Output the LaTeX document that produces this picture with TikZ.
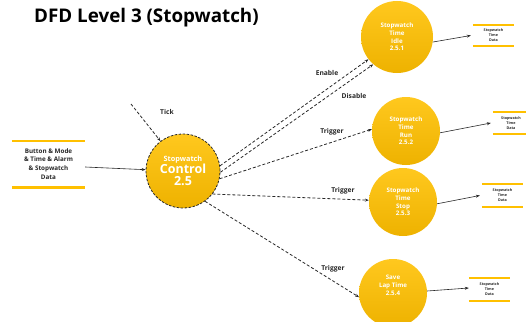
\documentclass[tikz,border=0pt]{standalone}
\usepackage{fontspec}
\setmainfont{Open Sans}
\usetikzlibrary{arrows.meta}
\definecolor{gold}{RGB}{255,192,0}
\definecolor{goldtop}{RGB}{255,200,30}
\definecolor{goldbot}{RGB}{238,178,0}
\definecolor{ink}{RGB}{40,40,40}
\tikzset{
  proc/.style={circle, draw=none, shading=axis, top color=goldtop, bottom color=goldbot,
    minimum size=#1, inner sep=0pt, align=center, text=white, font=\bfseries\fontsize{6.2}{7.7}\selectfont},
  proc/.default=70pt,
  store/.style={rectangle, draw=none, inner sep=0pt, align=center},
  storeline/.style={draw=gold, line width=2.6pt},
  flow/.style={draw=ink, line width=0.6pt, -{Stealth[length=4pt,width=3pt]}},
  ctl/.style={draw=ink, line width=0.8pt, dash pattern=on 3pt off 2pt, -{Stealth[length=4pt,width=3pt]}},
  lbl/.style={font=\bfseries\fontsize{6.7}{7.5}\selectfont, text=ink, inner sep=0pt},
  tiny/.style={font=\bfseries\fontsize{3.7}{4.9}\selectfont, text=ink},
}
\begin{document}
\begin{tikzpicture}[x=1pt,y=-1pt]
\useasboundingbox (0,0) rectangle (526,321);
\clip (0,0) rectangle (526,321);
% title
\node[font=\bfseries\fontsize{18.8}{22}\selectfont, anchor=west, inner sep=0pt] (title) at (34,18) {DFD Level 3 (Stopwatch)};

% left store
\node[store, minimum width=73pt, minimum height=46pt, font=\bfseries\fontsize{6.3}{8.9}\selectfont, text=ink] (sin) at (48.5,164) {Button \& Mode\\\& Time \& Alarm\\\& Stopwatch\\Data};
\draw[storeline] (sin.north west) -- (sin.north east);
\draw[storeline] (sin.south west) -- (sin.south east);

% control
\node[proc=74pt, draw=ink, line width=0.8pt, dash pattern=on 2.5pt off 1.5pt, font=\bfseries] (ctrl) at (183,171)
  {{\fontsize{7.3}{9}\selectfont Stopwatch}\\[0pt]{\fontsize{12.5}{14}\selectfont Control}\\[0pt]{\fontsize{12.5}{14}\selectfont 2.5}};

% processes
\node[proc=72pt] (c1) at (397,37) {Stopwatch\\Time\\Idle\\2.5.1};
\node[proc=68pt] (c2) at (406,131) {Stopwatch\\Time\\Run\\2.5.2};
\node[proc=68pt] (c3) at (403,202) {Stopwatch\\Time\\Stop\\2.5.3};
\node[proc=68pt] (c4) at (393,293) {Save\\Lap Time\\2.5.4\\[8pt]};

% right stores
\node[store, minimum width=41pt, minimum height=21pt, tiny] (s1) at (493.5,35.5) {Stopwatch\\Time\\Data};
\node[store, minimum width=36pt, minimum height=22pt, tiny] (s2) at (511,123) {Stopwatch\\Time\\Data};
\node[store, minimum width=41pt, minimum height=23pt, tiny] (s3) at (502.5,195.5) {Stopwatch\\Time\\Data};
\node[store, minimum width=41pt, minimum height=23pt, tiny] (s4) at (489.5,289.5) {Stopwatch\\Time\\Data};
\foreach \s in {s1,s2,s3,s4}{
  \draw[storeline, line width=2pt] (\s.north west) -- (\s.north east);
  \draw[storeline, line width=2pt] (\s.south west) -- (\s.south east);
}

% input flows
\coordinate (tickstart) at (131,104);
\draw[ctl] (tickstart) -- (ctrl.127);
\node[lbl] (ticklbl) at (167,112) {Tick};
\draw[flow] (sin.east |- 0,167) -- (ctrl.178);

% control flows
\draw[ctl] (ctrl.8) -- (c1.218);
\draw[ctl] (ctrl.-2) -- (c1.229);
\draw[ctl] (ctrl.-12) -- (c2.177);
\draw[ctl] (ctrl.-38) -- (c3.177);
\draw[ctl] (ctrl.-54) -- (c4.187);
\node[lbl] (enlbl) at (327,73) {Enable};
\node[lbl] (dislbl) at (354,96) {Disable};
\node[lbl] (tr1) at (332,132) {Trigger};
\node[lbl] (tr2) at (343,191) {Trigger};
\node[lbl] (tr3) at (333,269) {Trigger};

% output flows
\draw[flow] (c1.-8) -- ([xshift=-2pt]s1.west);
\draw[flow] (c2.-3) -- ([xshift=-2pt]s2.west);
\draw[flow] (c3.-3) -- ([xshift=-2pt]s3.west);
\draw[flow] (c4.east |- 0,291) -- ([yshift=1.5pt]s4.west);
\end{tikzpicture}
\end{document}
